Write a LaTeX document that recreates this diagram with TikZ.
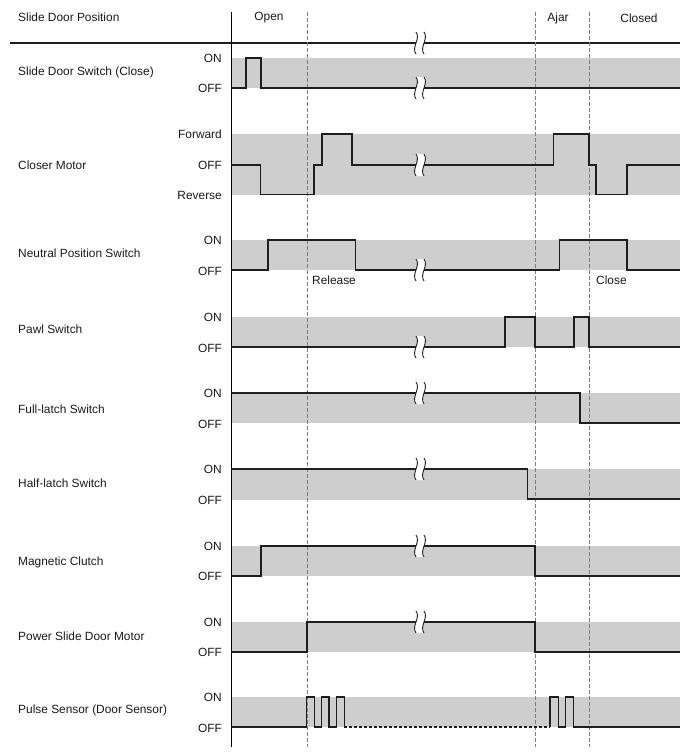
\documentclass[tikz,border=0pt]{standalone}
\usepackage{fontspec}
\setmainfont{Liberation Sans}
\definecolor{bandgray}{RGB}{206,206,206}
\definecolor{sigcol}{RGB}{30,30,30}
\definecolor{dashcol}{RGB}{125,125,125}
\tikzset{
  band/.style={fill=bandgray,draw=none},
  sig/.style={draw=sigcol,line width=1.2pt,line join=miter},
  dsig/.style={draw=sigcol,line width=1.1pt,dash pattern=on 3pt off 2pt},
  guide/.style={draw=dashcol,line width=1pt,dash pattern=on 3.5pt off 2.5pt},
  axis/.style={draw=black,line width=1pt},
  txt/.style={font=\fontsize{11.9}{14}\selectfont,inner sep=0pt,text=black!90},
  rowlbl/.style={txt,anchor=west},
  lvl/.style={txt,anchor=east},
  brk/.pic={
    \fill[white] (-4,-11) .. controls (1,-4) and (-9,4) .. (-4,11) -- (4,11) .. controls (-1,4) and (9,-4) .. (4,-11) -- cycle;
    \draw[sigcol,line width=0.9pt] (-4,-11) .. controls (1,-4) and (-9,4) .. (-4,11);
    \draw[sigcol,line width=0.9pt] (4,-11) .. controls (9,-4) and (-1,4) .. (4,11);
  }
}
\begin{document}
\begin{tikzpicture}[x=1pt,y=-1pt]
\useasboundingbox (0,0) rectangle (688,755);
% bands
\foreach \a/\b in {58/88,134/195,240/270,317/347,393/423,469/500,546/576,622/652,697/727}
  \fill[band] (231,\a) rectangle (680,\b);
% header line
\draw[axis,line width=1.1pt,draw=sigcol] (10,43) -- (680,43);
% guides
\draw[guide] (307,12) -- (307,747);
\draw[guide] (535,12) -- (535,747);
\draw[guide] (589,12) -- (589,747);
% axis
\draw[axis] (231,12) -- (231,747);
% header texts
\node[rowlbl] (hpos) at (18,17) {Slide Door Position};
\node[txt] (hopen) at (269,18) {Open};
\node[txt] (hajar) at (558,18) {Ajar};
\node[txt] (hclosed) at (639,18) {Closed};
% row labels
\node[rowlbl] (r1) at (18,72) {Slide Door Switch (Close)};
\node[rowlbl] (r2) at (18,165) {Closer Motor};
\node[rowlbl] (r3) at (18,253) {Neutral Position Switch};
\node[rowlbl] (r4) at (18,329) {Pawl Switch};
\node[rowlbl] (r5) at (18,409) {Full-latch Switch};
\node[rowlbl] (r6) at (18,483) {Half-latch Switch};
\node[rowlbl] (r7) at (18,562) {Magnetic Clutch};
\node[rowlbl] (r8) at (18,636) {Power Slide Door Motor};
\node[rowlbl] (r9) at (18,710) {Pulse Sensor (Door Sensor)};
% level labels
\node[lvl] (l1a) at (222,58) {ON};
\node[lvl] (l1b) at (222,88) {OFF};
\node[lvl] (l2a) at (222,134) {Forward};
\node[lvl] (l2b) at (222,165) {OFF};
\node[lvl] (l2c) at (222,195) {Reverse};
\node[lvl] (l3a) at (222,240) {ON};
\node[lvl] (l3b) at (222,271) {OFF};
\node[lvl] (l4a) at (222,317) {ON};
\node[lvl] (l4b) at (222,348) {OFF};
\node[lvl] (l5a) at (222,393) {ON};
\node[lvl] (l5b) at (222,424) {OFF};
\node[lvl] (l6a) at (222,469) {ON};
\node[lvl] (l6b) at (222,500) {OFF};
\node[lvl] (l7a) at (222,546) {ON};
\node[lvl] (l7b) at (222,576) {OFF};
\node[lvl] (l8a) at (222,622) {ON};
\node[lvl] (l8b) at (222,652) {OFF};
\node[lvl] (l9a) at (222,697) {ON};
\node[lvl] (l9b) at (222,728) {OFF};
% annotations
\node[txt,anchor=west] (rel) at (312,280) {Release};
\node[txt,anchor=west] (cls) at (596,280) {Close};
% signals
\draw[sig] (231,88) -- (246,88) -- (246,58) -- (261,58) -- (261,88) -- (680,88);
\draw[sig] (231,165) -- (260.5,165) -- (260.5,194.5) -- (314,194.5) -- (314,165) -- (322,165) -- (322,134) -- (352,134) -- (352,165) -- (553.5,165) -- (553.5,134) -- (589,134) -- (589,165) -- (596,165) -- (596,194.5) -- (627,194.5) -- (627,165) -- (680,165);
\draw[sig] (231,270) -- (268,270) -- (268,240) -- (355.5,240) -- (355.5,270) -- (559.5,270) -- (559.5,240) -- (627,240) -- (627,270) -- (680,270);
\draw[sig] (231,347) -- (505,347) -- (505,317) -- (535,317) -- (535,347) -- (574,347) -- (574,317) -- (589,317) -- (589,347) -- (680,347);
\draw[sig] (231,393) -- (580,393) -- (580,423) -- (680,423);
\draw[sig] (231,469) -- (527.5,469) -- (527.5,499) -- (680,499);
\draw[sig] (231,576) -- (261,576) -- (261,546) -- (535,546) -- (535,576) -- (680,576);
\draw[sig] (231,652) -- (307,652) -- (307,622) -- (535,622) -- (535,652) -- (680,652);
\draw[sig] (231,727) -- (306.5,727) -- (306.5,697) -- (314.3,697) -- (314.3,727) -- (321.7,727) -- (321.7,697) -- (329,697) -- (329,727) -- (336.7,727) -- (336.7,697) -- (344.3,697) -- (344.3,727);
\draw[dsig] (344.3,727) -- (550,727);
\draw[sig] (550,727) -- (550,697) -- (558.3,697) -- (558.3,727) -- (565.5,727) -- (565.5,697) -- (573.3,697) -- (573.3,727) -- (680,727);
% break marks
\foreach \yy in {43,88,165,270,347,393,469,546,622}
  \pic at (420,\yy) {brk};
\end{tikzpicture}
\end{document}
